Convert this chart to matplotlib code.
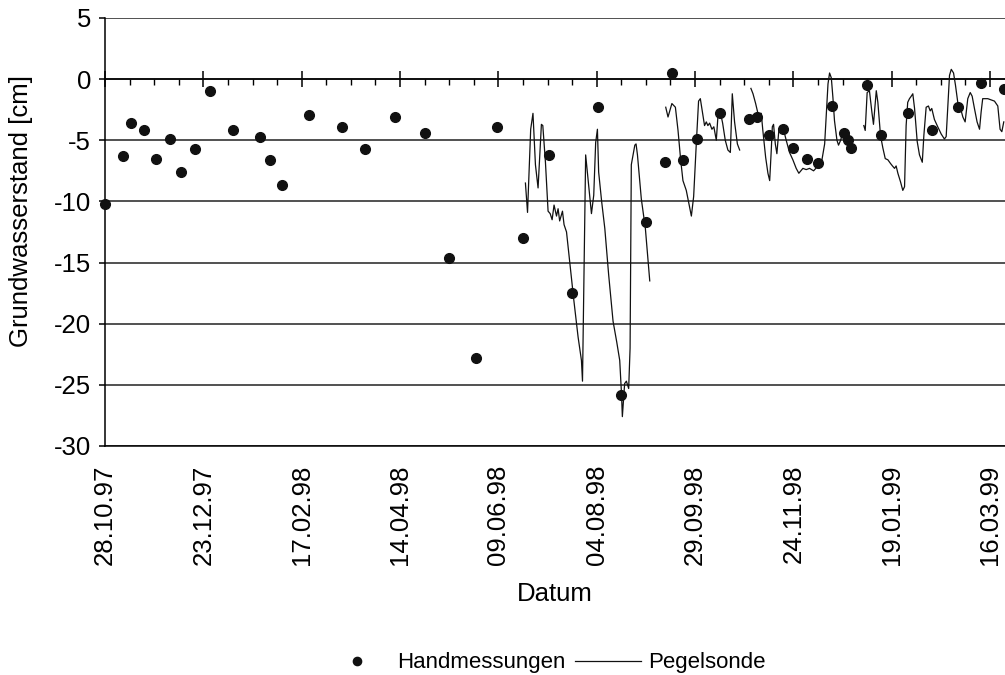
import numpy as np
import pandas as pd
import matplotlib
matplotlib.use("Agg")
from matplotlib import pyplot as plt
import matplotlib.dates as mdates

plt.rcParams['font.family'] = ['Liberation Sans', 'DejaVu Sans']
plt.rcParams['axes.unicode_minus'] = False

start = pd.Timestamp("1997-10-28")

# Handmessungen: Tage seit 28.10.97, Grundwasserstand [cm]
hand_tage = [0, 10, 15, 22, 29, 37, 43, 51, 60, 73, 88, 94, 101, 116, 135, 148,
             165, 182, 196, 211, 223, 238, 253, 266, 281, 294, 308, 319, 323,
             329, 337, 350, 367, 371, 378, 386, 392, 400, 406, 414, 421, 423,
             425, 434, 442, 457, 471, 486, 499, 512]
hand_werte = [-10.2, -6.3, -3.6, -4.2, -6.5, -4.9, -7.6, -5.7, -1.0, -4.2, -4.7,
              -6.6, -8.7, -2.9, -3.9, -5.7, -3.1, -4.4, -14.6, -22.8, -3.9,
              -13.0, -6.2, -17.5, -2.3, -25.8, -11.7, -6.8, 0.5, -6.6, -4.9,
              -2.8, -3.3, -3.1, -4.6, -4.1, -5.6, -6.5, -6.9, -2.2, -4.4, -5.0,
              -5.6, -0.5, -4.6, -2.8, -4.2, -2.3, -0.35, -0.8]

# Pegelsonde (nan = Datenluecke)
sonde_tage = [
    239.4, 240.6, 242.4, 243.7, 245.1, 246.6, 247.6, 248.5, 249.3, 250.8,
    252.3, 253.5, 254.6, 255.7, 257.1, 258.0, 258.9, 260.5, 261.4, 262.8,
    264.6, 266.9, 269.4, 271.3, 271.9, 273.7, 275.0, 277.0, 278.3, 279.4,
    280.4, 281.1, 282.8, 284.6, 286.8, 289.3, 291.4, 293.1, 294.1, 294.6,
    295.9, 296.9, 298.2, 299.0, 299.7, 301.7, 302.4, 303.2, 305.4, 307.7,
    310.2,
    310.5,
    319.3, 320.6, 322.8, 324.8, 326.3, 327.8, 329.1, 331.0, 332.5, 333.9,
    335.2, 336.7, 338.0, 339.0, 340.1, 341.4, 342.4, 343.3, 344.3, 345.6,
    346.7, 348.1, 349.0, 350.4, 351.7, 353.2, 354.7, 356.1, 357.2, 358.5,
    360.1, 361.4,
    361.7,
    367.8, 369.0, 370.5, 371.8, 373.7, 374.6, 376.2, 377.5, 378.5, 379.4,
    380.0, 380.7, 381.7, 382.6, 383.7, 384.7, 386.0, 387.9, 389.8, 391.7,
    393.6, 395.1, 397.4, 399.3, 401.2, 403.5, 405.4, 407.9, 409.8, 410.8,
    411.7, 412.6, 413.6, 414.5, 415.4, 416.8, 417.7, 418.9, 419.8,
    420.0,
    432.1, 432.9, 434.0, 435.3, 436.7, 437.6, 439.2, 440.1, 441.6, 442.9,
    444.3, 445.8, 447.3, 448.4, 449.6, 450.5, 451.5, 453.0, 454.3, 455.3,
    456.2, 457.1, 458.1, 459.1, 460.0, 461.0, 462.5, 463.8, 465.4, 466.3,
    467.6, 468.9, 469.9, 470.8, 472.3, 474.2, 476.2, 478.0, 479.0, 479.9,
    480.9, 481.9, 483.2, 484.3, 485.6, 487.2, 488.5, 489.8, 491.3, 492.7,
    493.8, 495.1, 496.6, 498.0, 498.9, 499.8, 502.7, 506.5, 508.4, 509.7,
    510.7, 511.8]
sonde_werte = [
    -8.5, -10.9, -4.1, -2.8, -7.0, -8.9, -6.2, -3.7, -3.8, -6.8,
    -10.8, -11.0, -11.5, -10.3, -11.2, -10.6, -11.6, -10.8, -11.9, -12.5,
    -14.9, -18.0, -21.1, -23.0, -24.7, -6.2, -8.1, -11.0, -9.5, -5.2,
    -4.1, -7.6, -10.0, -12.2, -16.0, -19.8, -21.5, -23.0, -25.7, -27.6,
    -24.9, -24.7, -25.3, -22.0, -7.0, -5.4, -5.3, -6.2, -9.8, -12.2,
    -16.5,
    np.nan,
    -2.3, -3.1, -2.0, -2.3, -4.2, -6.6, -8.3, -9.1, -10.2, -11.2,
    -9.6, -5.3, -1.8, -1.6, -2.6, -3.8, -3.5, -3.8, -3.6, -4.1,
    -3.9, -5.0, -3.1, -2.7, -3.6, -5.0, -5.8, -6.0, -1.2, -3.5,
    -5.3, -5.8,
    np.nan,
    -0.76, -1.2, -2.0, -2.8, -2.8, -4.2, -6.4, -7.7, -8.3, -5.8,
    -3.9, -3.7, -5.3, -6.1, -4.2, -3.8, -3.9, -5.0, -6.0, -6.6,
    -7.3, -7.7, -7.3, -7.4, -7.3, -7.5, -7.2, -6.9, -5.3, -2.8,
    -0.4, 0.5, 0.1, -1.5, -3.4, -5.0, -5.4, -5.0, -4.5,
    np.nan,
    -3.8, -4.2, -1.1, -0.95, -2.7, -3.7, -0.95, -1.9, -4.6, -5.6,
    -6.5, -6.6, -6.9, -7.1, -7.3, -7.1, -7.7, -8.4, -9.1, -8.8,
    -3.8, -1.9, -1.6, -1.4, -1.2, -2.4, -5.1, -6.2, -6.8, -4.6,
    -2.3, -2.2, -2.6, -2.4, -3.3, -3.9, -4.5, -4.9, -4.7, -2.4,
    0.3, 0.8, 0.5, -0.5, -1.9, -2.4, -3.1, -3.5, -1.6, -1.1,
    -1.4, -2.4, -3.5, -4.1, -2.7, -1.6, -1.6, -1.8, -2.2, -4.1,
    -4.3, -3.5]

hand_datum = start + pd.to_timedelta(hand_tage, unit="D")
sonde_datum = start + pd.to_timedelta(sonde_tage, unit="D")

fig = plt.figure(figsize=(10.05, 6.75), dpi=100)
ax = fig.add_axes([0.1045, 0.3393, 0.8955, 0.6341])

ax.plot(hand_datum, hand_werte, "o", color="#111111", markersize=7,
        label="Handmessungen", clip_on=False, zorder=4)
ax.plot(sonde_datum, sonde_werte, "-", color="#111111", linewidth=0.9,
        label="Pegelsonde", zorder=3)

ax.set_ylim(-30, 5)
ax.set_yticks(np.arange(-30, 6, 5))
ax.set_xlim(start, start + pd.Timedelta(days=512.5))

major = pd.date_range(start, periods=10, freq="56D")
minor = pd.date_range(start, periods=37, freq="14D")
ax.set_xticks(major)
ax.set_xticks(minor, minor=True)
ax.xaxis.set_major_formatter(mdates.DateFormatter("%d.%m.%y"))

ax.grid(axis="y", color="#222222", linewidth=1.1)
ax.set_axisbelow(True)

# x-Achse kreuzt bei 0, Beschriftung unten
ax.spines["top"].set_position(("data", 0))
ax.spines["top"].set_linewidth(1.1)
ax.spines["right"].set_visible(False)
ax.spines["left"].set_linewidth(1.1)
ax.spines["bottom"].set_linewidth(1.1)
ax.tick_params(axis="x", which="major", top=True, bottom=False, labeltop=False,
               labelbottom=True, direction="inout", length=11, width=1.1,
               labelrotation=90, labelsize=18.5, pad=8)
ax.tick_params(axis="x", which="minor", top=True, bottom=False,
               direction="in", length=4, width=1)
ax.tick_params(axis="y", direction="out", length=4, width=1.1,
               labelsize=18.5, pad=6)

ax.set_xlabel("Datum", fontsize=18.5, labelpad=12)
ax.set_ylabel("Grundwasserstand [cm]", fontsize=18.5)
ax.yaxis.set_label_coords(-0.080, 0.549)

fig.legend(loc="center", bbox_to_anchor=(0.542, 0.018), ncol=2,
           frameon=False, fontsize=16, handlelength=3.0,
           handletextpad=0.3, columnspacing=0.4, markerscale=0.85)

fig.savefig("out.png", dpi=100)
